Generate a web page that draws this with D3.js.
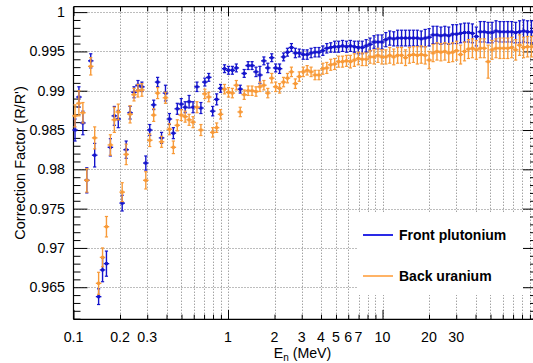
<!DOCTYPE html>
<html>
<head>
<meta charset="utf-8">
<script src="https://cdn.jsdelivr.net/npm/d3@7"></script>
<style>
  body { margin: 0; background: #fff; }
  svg { display: block; }
  text { font-family: "Liberation Sans", Arial, Helvetica, sans-serif; fill: #000; }
</style>
</head>
<body>
<svg id="chart" width="533" height="363"></svg>
<script>
// Neutron energy bin centres (MeV)
const energy = [
  0.1023,0.1084,0.1150,0.1219,0.1293,0.1371,0.1454,0.1542,0.1634,0.1733,
  0.1838,0.1949,0.2066,0.2192,0.2324,0.2464,0.2613,0.2771,0.2938,0.3115,
  0.3304,0.3503,0.3715,0.3939,0.4177,0.4429,0.4697,0.4980,0.5281,0.5600,
  0.5938,0.6296,0.6677,0.7080,0.7508,0.7962,0.8443,0.8953,0.9493,1.007,
  1.067,1.132,1.200,1.273,1.350,1.431,1.518,1.609,1.707,1.810,
  1.919,2.035,2.158,2.288,2.426,2.573,2.728,2.893,3.068,3.253,
  3.449,3.657,3.878,4.112,4.361,4.624,4.903,5.199,5.513,5.846,
  6.199,6.573,6.970,7.391,7.837,8.310,8.812,9.345,9.910,10.51,
  11.14,11.82,12.53,13.29,14.09,14.94,15.84,16.80,17.81,18.89,
  20.03,21.24,22.52,23.88,25.32,26.85,28.48,30.19,32.02,33.95,
  36.00,38.18,40.49,42.93,45.52,48.27,51.19,54.28,57.56,61.03,
  64.72,68.63,72.77,77.17,81.83,86.77,92.01
];

// Correction factor, front plutonium deposit
const frontPu = [
  0.9850,0.9892,0.9859,0.9786,0.9938,0.9818,0.9638,0.9672,0.9680,0.9828,
  0.9868,0.9864,0.9757,0.9825,0.9872,0.9898,0.9907,0.9905,0.9808,0.9850,
  0.9882,0.9911,0.9840,0.9897,0.9864,0.9846,0.9877,0.9883,0.9879,0.9886,
  0.9879,0.9905,0.9878,0.9911,0.9917,0.9874,0.9889,0.9903,0.9928,0.9926,
  0.9926,0.9929,0.9902,0.9922,0.9932,0.9932,0.9924,0.9920,0.9938,0.9929,
  0.9942,0.9929,0.9928,0.9943,0.9949,0.9955,0.9948,0.9948,0.9946,0.9946,
  0.9948,0.9949,0.9949,0.9951,0.9954,0.9955,0.9956,0.9956,0.9957,0.9956,
  0.9957,0.9956,0.9955,0.9955,0.9957,0.9959,0.9962,0.9962,0.9962,0.9965,
  0.9967,0.9966,0.9967,0.9967,0.9967,0.9967,0.9967,0.9967,0.9966,0.9967,
  0.9968,0.9971,0.9971,0.9970,0.9971,0.9970,0.9972,0.9972,0.9973,0.9974,
  0.9974,0.9973,0.9969,0.9975,0.9975,0.9974,0.9974,0.9976,0.9975,0.9975,
  0.9975,0.9975,0.9974,0.9975,0.9976,0.9975,0.9975
];
const frontPuErr = [
  0.0014,0.0013,0.0015,0.0016,0.0009,0.0015,0.0010,0.0015,0.0016,0.0011,
  0.0012,0.0011,0.0010,0.0011,0.0008,0.0007,0.0006,0.0006,0.0009,0.0007,
  0.0006,0.0006,0.0007,0.0010,0.0007,0.0007,0.0007,0.0007,0.0007,0.0008,
  0.0007,0.0006,0.0007,0.0005,0.0005,0.0006,0.0007,0.0005,0.0005,0.0005,
  0.0005,0.0005,0.0005,0.0005,0.0005,0.0005,0.0006,0.0011,0.0005,0.0006,
  0.0005,0.0005,0.0006,0.0005,0.0005,0.0005,0.0006,0.0005,0.0006,0.0006,
  0.0006,0.0006,0.0006,0.0006,0.0006,0.0006,0.0007,0.0007,0.0007,0.0007,
  0.0007,0.0007,0.0008,0.0008,0.0008,0.0008,0.0008,0.0009,0.0009,0.0009,
  0.0009,0.0009,0.0010,0.0010,0.0010,0.0010,0.0010,0.0010,0.0010,0.0011,
  0.0011,0.0011,0.0011,0.0011,0.0011,0.0011,0.0012,0.0012,0.0012,0.0012,
  0.0012,0.0012,0.0012,0.0013,0.0013,0.0013,0.0013,0.0013,0.0013,0.0013,
  0.0013,0.0013,0.0013,0.0014,0.0014,0.0014,0.0014
];

// Correction factor, back uranium deposit
const backU = [
  0.9868,0.9884,0.9872,0.9786,0.9931,0.9840,0.9655,0.9688,0.9727,0.9831,
  0.9863,0.9873,0.9771,0.9819,0.9870,0.9895,0.9900,0.9901,0.9786,0.9837,
  0.9869,0.9897,0.9835,0.9891,0.9851,0.9828,0.9856,0.9869,0.9867,0.9863,
  0.9860,0.9879,0.9850,0.9896,0.9892,0.9847,0.9853,0.9870,0.9902,0.9898,
  0.9897,0.9907,0.9873,0.9895,0.9900,0.9900,0.9899,0.9905,0.9907,0.9897,
  0.9916,0.9905,0.9903,0.9911,0.9916,0.9924,0.9909,0.9918,0.9924,0.9926,
  0.9924,0.9920,0.9920,0.9928,0.9929,0.9933,0.9934,0.9937,0.9937,0.9938,
  0.9937,0.9939,0.9941,0.9940,0.9940,0.9943,0.9943,0.9945,0.9943,0.9943,
  0.9945,0.9943,0.9945,0.9945,0.9942,0.9945,0.9946,0.9945,0.9946,0.9945,
  0.9939,0.9948,0.9950,0.9949,0.9950,0.9948,0.9949,0.9951,0.9946,0.9950,
  0.9953,0.9954,0.9952,0.9954,0.9954,0.9937,0.9952,0.9954,0.9954,0.9954,
  0.9954,0.9955,0.9952,0.9958,0.9955,0.9956,0.9956
];
const backUErr = [
  0.0014,0.0016,0.0013,0.0015,0.0011,0.0014,0.0014,0.0012,0.0013,0.0013,
  0.0016,0.0010,0.0012,0.0013,0.0011,0.0008,0.0008,0.0008,0.0011,0.0008,
  0.0008,0.0007,0.0007,0.0007,0.0007,0.0008,0.0007,0.0007,0.0007,0.0007,
  0.0007,0.0007,0.0007,0.0006,0.0006,0.0006,0.0006,0.0006,0.0006,0.0006,
  0.0006,0.0006,0.0006,0.0006,0.0006,0.0006,0.0006,0.0006,0.0006,0.0006,
  0.0006,0.0006,0.0006,0.0006,0.0006,0.0006,0.0006,0.0006,0.0006,0.0006,
  0.0006,0.0006,0.0006,0.0007,0.0007,0.0007,0.0007,0.0007,0.0007,0.0007,
  0.0008,0.0008,0.0008,0.0008,0.0008,0.0008,0.0009,0.0009,0.0009,0.0009,
  0.0010,0.0010,0.0010,0.0010,0.0010,0.0010,0.0010,0.0011,0.0011,0.0011,
  0.0011,0.0011,0.0011,0.0011,0.0011,0.0012,0.0012,0.0012,0.0012,0.0012,
  0.0012,0.0012,0.0012,0.0012,0.0012,0.0021,0.0012,0.0012,0.0013,0.0013,
  0.0013,0.0013,0.0013,0.0013,0.0013,0.0013,0.0013
];

const seriesNames  = ["Front plutonium", "Back uranium"];
const seriesColors = ["#1414cc", "#f89a38"];
const legendColors = ["#2a2ae6", "#ffb366"];

const xLabelValues = [0.1, 0.2, 0.3, 1, 2, 3, 4, 5, 6, 7, 10, 20, 30];
const yTickValues  = [0.965, 0.97, 0.975, 0.98, 0.985, 0.99, 0.995, 1];
const xDomain = [0.1, 100];
const yDomain = [0.96092, 1.00069];

const svg = d3.select("#chart");
const W = 533, H = 363;
const frame = { left: 73.5, right: 537, top: 6.7, bottom: 319.3 };

const x = d3.scaleLog().domain(xDomain).range([frame.left, frame.right]);
const y = d3.scaleLinear().domain(yDomain).range([frame.bottom, frame.top]);

// every 1..9 multiple per decade
const xAllTicks = [];
for (let d = 0.1; d < 100; d *= 10) {
  for (let m = 1; m < 10; m++) xAllTicks.push(+(m * d).toPrecision(3));
}
xAllTicks.push(100);
const yMinorTicks = d3.range(0.961, 1.0005, 0.001).map(v => +v.toFixed(3));

const gridColor = "#7a7a7a";
const grid = svg.append("g");
grid.selectAll("line.gx").data(xAllTicks.filter(v => v > xDomain[0] && v < xDomain[1]))
  .join("line")
  .attr("x1", d => Math.round(x(d)) + 0.5).attr("x2", d => Math.round(x(d)) + 0.5)
  .attr("y1", frame.top).attr("y2", frame.bottom)
  .attr("stroke", gridColor).attr("stroke-width", 1).attr("stroke-dasharray", "1,2");
grid.selectAll("line.gy").data(yTickValues)
  .join("line")
  .attr("x1", frame.left).attr("x2", frame.right)
  .attr("y1", d => Math.round(y(d)) + 0.5).attr("y2", d => Math.round(y(d)) + 0.5)
  .attr("stroke", gridColor).attr("stroke-width", 1).attr("stroke-dasharray", "1,2");

// axes drawn with d3 axis generators; ticks point inward
const tickMajorY = 14, tickMinorY = 7, tickMajorX = 9.4, tickMinorX = 4.7;
const axisG = svg.append("g");

const yAxisLeft = d3.axisRight(y).tickValues(yMinorTicks)
  .tickSize(0).tickFormat("");
const gyl = axisG.append("g").attr("transform", `translate(${frame.left},0)`).call(yAxisLeft);
gyl.selectAll(".tick line").remove();
gyl.selectAll(".tick").append("line")
  .attr("x1", 0).attr("y1", 0).attr("y2", 0)
  .attr("x2", d => yTickValues.some(v => Math.abs(v - d) < 1e-6) ? tickMajorY : tickMinorY)
  .attr("stroke", "#000");
gyl.select(".domain").remove();

const gyr = axisG.append("g").attr("transform", `translate(${frame.right},0)`)
  .call(d3.axisLeft(y).tickValues(yMinorTicks).tickSize(0).tickFormat(""));
gyr.selectAll(".tick").append("line")
  .attr("x1", 0).attr("y1", 0).attr("y2", 0)
  .attr("x2", d => yTickValues.some(v => Math.abs(v - d) < 1e-6) ? -tickMajorY : -tickMinorY)
  .attr("stroke", "#000");
gyr.select(".domain").remove();

// y labels
axisG.append("g").selectAll("text").data(yTickValues).join("text")
  .attr("x", 65).attr("y", d => y(d) + 5)
  .attr("text-anchor", "end").attr("font-size", 14.2)
  .text(d => d3.format("")(+d.toFixed(3)));

const isDecade = v => Math.abs(Math.log10(v) - Math.round(Math.log10(v))) < 1e-6;
const gxb = axisG.append("g").attr("transform", `translate(0,${frame.bottom})`)
  .call(d3.axisTop(x).tickValues(xAllTicks).tickSize(0).tickFormat(""));
gxb.selectAll(".tick").append("line")
  .attr("x1", 0).attr("x2", 0).attr("y1", 0)
  .attr("y2", d => isDecade(d) ? -tickMajorX : -tickMinorX)
  .attr("stroke", "#000");
gxb.select(".domain").remove();

const gxt = axisG.append("g").attr("transform", `translate(0,${frame.top})`)
  .call(d3.axisBottom(x).tickValues(xAllTicks).tickSize(0).tickFormat(""));
gxt.selectAll(".tick").append("line")
  .attr("x1", 0).attr("x2", 0).attr("y1", 0)
  .attr("y2", d => isDecade(d) ? tickMajorX : tickMinorX)
  .attr("stroke", "#000");
gxt.select(".domain").remove();

axisG.append("g").selectAll("text").data(xLabelValues).join("text")
  .attr("x", d => x(d)).attr("y", 341.7)
  .attr("text-anchor", "middle").attr("font-size", 14.2)
  .text(d => String(d));

// frame
svg.append("line").attr("x1", frame.left).attr("x2", frame.left)
  .attr("y1", frame.top).attr("y2", frame.bottom).attr("stroke", "#000").attr("stroke-width", 1.2);
svg.append("line").attr("x1", frame.left).attr("x2", frame.right)
  .attr("y1", frame.bottom).attr("y2", frame.bottom).attr("stroke", "#000").attr("stroke-width", 1.2);
svg.append("line").attr("x1", frame.left).attr("x2", frame.right)
  .attr("y1", frame.top).attr("y2", frame.top).attr("stroke", "#000").attr("stroke-width", 1.2);

// axis titles
const xt = svg.append("text").attr("x", 302.5).attr("y", 358)
  .attr("text-anchor", "middle").attr("font-size", 14.2);
xt.append("tspan").text("E");
xt.append("tspan").attr("font-size", 10).attr("dy", 3).text("n");
xt.append("tspan").attr("dy", -3).text(" (MeV)");

svg.append("text")
  .attr("transform", "translate(25,163) rotate(-90)")
  .attr("text-anchor", "middle").attr("font-size", 14.5)
  .text("Correction Factor (R/R')");

// bin edges from neighbouring bin centres (geometric midpoints)
const edgesLo = energy.map((e, i) => i > 0 ? Math.sqrt(e * energy[i - 1]) : e * e / Math.sqrt(e * energy[1]));
const edgesHi = energy.map((e, i) => i < energy.length - 1 ? Math.sqrt(e * energy[i + 1]) : e * e / Math.sqrt(e * energy[i - 1]));

function drawSeries(vals, errs, color) {
  const pts = energy.map((e, i) => ({ e, v: vals[i], err: errs[i], lo: edgesLo[i], hi: edgesHi[i] }));
  const g = svg.append("g").attr("stroke", color).attr("fill", color);
  const cap = 1.6;
  const pg = g.selectAll("g").data(pts).join("g");
  pg.append("line").attr("x1", d => x(d.e)).attr("x2", d => x(d.e))
    .attr("y1", d => y(d.v - d.err)).attr("y2", d => y(d.v + d.err)).attr("stroke-width", 1.4);
  pg.append("line").attr("x1", d => x(d.e) - cap).attr("x2", d => x(d.e) + cap)
    .attr("y1", d => y(d.v - d.err)).attr("y2", d => y(d.v - d.err)).attr("stroke-width", 1.2);
  pg.append("line").attr("x1", d => x(d.e) - cap).attr("x2", d => x(d.e) + cap)
    .attr("y1", d => y(d.v + d.err)).attr("y2", d => y(d.v + d.err)).attr("stroke-width", 1.2);
  pg.append("line").attr("x1", d => x(d.lo) - 0.8).attr("x2", d => x(d.hi) + 0.8)
    .attr("y1", d => y(d.v)).attr("y2", d => y(d.v)).attr("stroke-width", 1.4);
  pg.append("rect").attr("x", d => x(d.e) - 1.5).attr("y", d => y(d.v) - 1.5)
    .attr("width", 3).attr("height", 3).attr("stroke", "none");
}
drawSeries(frontPu, frontPuErr, seriesColors[0]);
drawSeries(backU, backUErr, seriesColors[1]);

// legend
const lg = svg.append("g");
lg.append("rect").attr("x", 357).attr("y", 213).attr("width", 166).attr("height", 82).attr("fill", "#fff");
const rows = [235, 276];
seriesNames.forEach((name, i) => {
  lg.append("line").attr("x1", 363).attr("x2", 393).attr("y1", rows[i]).attr("y2", rows[i])
    .attr("stroke", legendColors[i]).attr("stroke-width", 2);
  lg.append("text").attr("x", 399).attr("y", rows[i] + 5)
    .attr("font-size", 14).attr("font-weight", "bold").text(name);
});
</script>
</body>
</html>
